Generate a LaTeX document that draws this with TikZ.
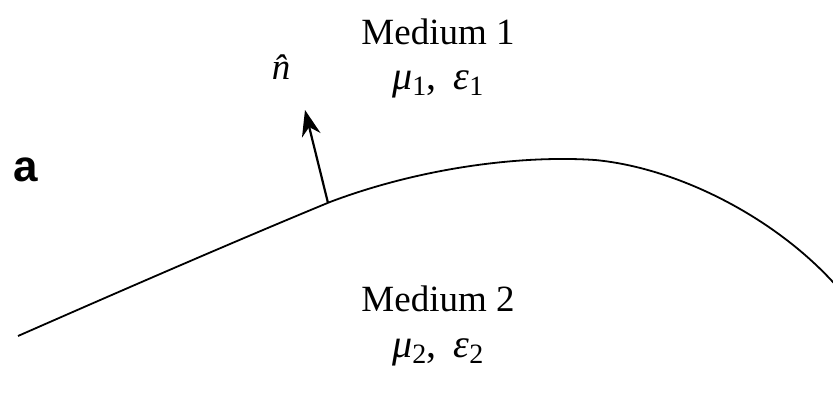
\RequirePackage{fix-cm}
\documentclass[tikz,border=0pt]{standalone}
\usepackage{fontspec}
\setmainfont{Liberation Serif}
\newfontfamily\panelfont{Liberation Sans}
\usetikzlibrary{arrows.meta, positioning}
\newcommand{\matpar}[2]{\textit{#1}\textsubscript{#2}}

\begin{document}
\begin{tikzpicture}[
    x=1pt, y=-1pt,
    medium/.style={font=\fontsize{37}{44}\selectfont, anchor=base, inner sep=0pt},
    params/.style={medium, font=\fontsize{40}{46}\selectfont},
    boundary/.style={line width=1.8pt},
    normal/.style={line width=2.2pt, -{Stealth[length=26pt, width=19pt]}}
]
\useasboundingbox (0,0) rectangle (833,395);

% Panel label
\node[font=\panelfont\bfseries\fontsize{44}{50}\selectfont, anchor=base, inner sep=0pt] (panel) at (26,182) {a};

% Media
\node[medium] (med1) at (438,45) {Medium 1};
\node[params] (par1) at (438,90) {\matpar{μ}{1},\, \matpar{ε}{1}};
\node[medium] (med2) at (438,312) {Medium 2};
\node[params] (par2) at (438,358) {\matpar{μ}{2},\, \matpar{ε}{2}};

% Interface
\draw[boundary] (18,336) .. controls (150,278) and (250,235) .. (330,202)
    .. controls (420,168) and (520,155) .. (595,160)
    .. controls (680,168) and (780,220) .. (840,290);

% Normal vector
\coordinate (foot) at (328,203);
\coordinate (tip) at (305,110);
\draw[normal] (foot) -- (tip);
\node[medium] (nhat) at (288,80) {\textit{\^{n}}};

\end{tikzpicture}
\end{document}
